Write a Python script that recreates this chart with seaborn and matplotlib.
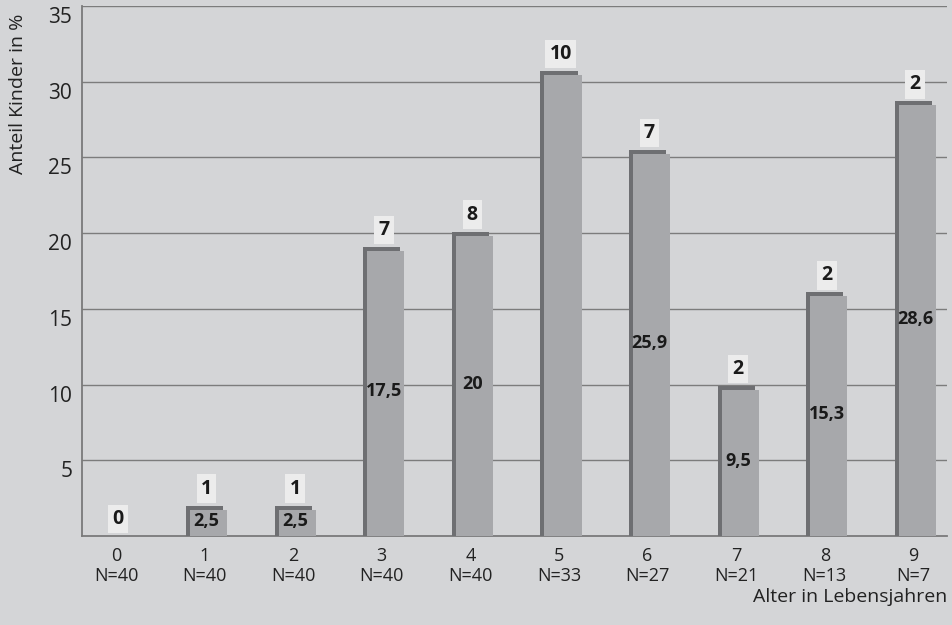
import numpy as np
import pandas as pd
import seaborn as sns
import matplotlib.pyplot as plt
import matplotlib.transforms as mtransforms
from matplotlib.patches import Rectangle

# Data
alter = ["0", "1", "2", "3", "4", "5", "6", "7", "8", "9"]
n_kinder = [40, 40, 40, 40, 40, 33, 27, 21, 13, 7]
anzahl = [0, 1, 1, 7, 8, 10, 7, 2, 2, 2]
anteil = [0, 2.0, 2.0, 19.1, 20.1, 30.7, 25.5, 9.9, 16.1, 28.7]
anteil_text = ["", "2,5", "2,5", "17,5", "20", "", "25,9", "9,5", "15,3", "28,6"]

df = pd.DataFrame({"alter": alter, "anteil": anteil})

bg = "#d4d5d7"
dark = "#6e6f72"
face = "#a7a8ab"

sns.set_style("white")
plt.rcParams["font.family"] = ["Open Sans", "DejaVu Sans"]

fig = plt.figure(figsize=(9.53, 6.25), dpi=100, facecolor=bg)
ax = fig.add_axes([0.086, 0.1424, 0.9077, 0.848])
ax.set_facecolor(bg)

sns.barplot(data=df, x="alter", y="anteil", order=alter, color=dark,
            width=0.42, saturation=1, edgecolor="none", linewidth=0, ax=ax, zorder=3)

ax.set_xlim(-0.384, 9.38)
ax.set_ylim(0, 35)

# lighter front face, shifted a bit to the right and down
dx = 4 / 88.6
dy = 4 / 15.14
bars = list(ax.patches)
for p in bars:
    h = p.get_height()
    if h > 0:
        ax.add_patch(Rectangle((p.get_x() + dx, 0), p.get_width(), h - dy,
                               facecolor=face, edgecolor="none", zorder=4))

# labels
for i, p in enumerate(bars):
    cx = p.get_x() + p.get_width() / 2 + dx / 2
    h = p.get_height()
    ax.annotate(str(anzahl[i]), (cx, h), xytext=(0, 5), textcoords="offset points",
                ha="center", va="bottom", fontsize=14, fontweight="bold", color="#1a1a1a",
                bbox=dict(boxstyle="square,pad=0.22", facecolor="#ececec", edgecolor="none"),
                zorder=6)
    if anteil_text[i]:
        ax.text(cx, h / 2, anteil_text[i], ha="center", va="center", fontsize=13,
                fontweight="bold", color="#1a1a1a", zorder=6)

ax.set_yticks([5, 10, 15, 20, 25, 30, 35])
ax.grid(axis="y", color="#7c7c7c", linewidth=1.0, zorder=0)
ax.set_axisbelow(True)
ax.set_xticks(range(len(alter)))
ax.set_xticklabels([f"{a}\nN={n}" for a, n in zip(alter, n_kinder)], linespacing=1.15)
ax.tick_params(axis="x", length=0, pad=8, labelsize=13, colors="#222222")
ax.tick_params(axis="y", length=0, pad=7, labelsize=15, colors="#222222")

# y tick labels sit just below their grid line
shift = mtransforms.ScaledTranslation(0, -0.09, fig.dpi_scale_trans)
for lab in ax.get_yticklabels():
    lab.set_transform(lab.get_transform() + shift)

for s in ["top", "right"]:
    ax.spines[s].set_visible(False)
for s in ["left", "bottom"]:
    ax.spines[s].set_color("#7a7a7a")
    ax.spines[s].set_linewidth(1.3)

ax.set_xlabel("Alter in Lebensjahren", fontsize=14, color="#222222", loc="right")
ax.xaxis.set_label_coords(1.0, -0.115)
ax.xaxis.label.set_va("center")
ax.set_ylabel("Anteil Kinder in %", fontsize=14, color="#222222", loc="top")
ax.yaxis.set_label_coords(-0.074, 0.985)
ax.yaxis.label.set_va("center")

plt.savefig("out.png", dpi=100, facecolor=bg)
